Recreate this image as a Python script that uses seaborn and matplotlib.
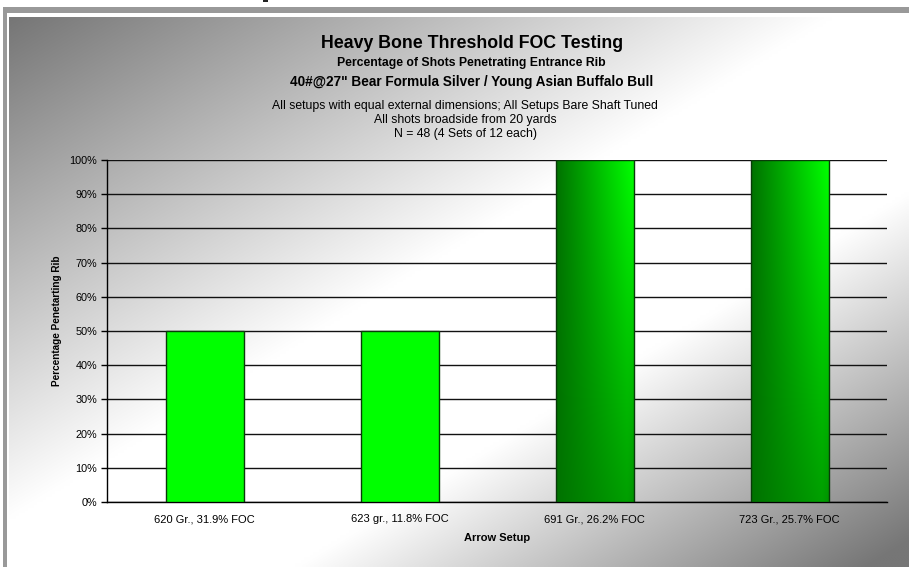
import numpy as np
import pandas as pd
import matplotlib
matplotlib.use('Agg')
import matplotlib.pyplot as plt
import matplotlib.patches as mpatches
import seaborn as sns

# data
setups = ['620 Gr., 31.9% FOC', '623 gr., 11.8% FOC', '691 Gr., 26.2% FOC', '723 Gr., 25.7% FOC']
pct_penetrating = [50, 50, 100, 100]
shaded_bar = [False, False, True, True]
bar_colors = ['#00ff00', '#00ff00', '#008000', '#008000']

title_lines = ['Heavy Bone Threshold FOC Testing',
               'Percentage of Shots Penetrating Entrance Rib',
               '40#@27" Bear Formula Silver / Young Asian Buffalo Bull']
note_lines = ['All setups with equal external dimensions; All Setups Bare Shaft Tuned',
              'All shots broadside from 20 yards',
              'N = 48 (4 Sets of 12 each)']

sns.set_theme(style='white')
plt.rcParams['font.family'] = ['Liberation Sans', 'DejaVu Sans']
plt.rcParams.update({'text.color': 'black', 'axes.labelcolor': 'black',
                     'xtick.color': 'black', 'ytick.color': 'black'})

W, H = 909, 567
fig = plt.figure(figsize=(W / 100, H / 100), dpi=100)
fig.patch.set_facecolor('white')

# background: diagonal grey-white-grey gradient with grey frame bars
bg = fig.add_axes([0, 0, 1, 1], zorder=0)
bg.set_xlim(0, W)
bg.set_ylim(H, 0)
bg.axis('off')
u, v = np.meshgrid(np.linspace(0, 1, 300), np.linspace(0, 1, 200))
t = (u + v) / 2
grey = np.where(t < 0.46, 118 + 300 * t, np.where(t > 0.66, 255 - 430 * (t - 0.66), 255))
grey = np.clip(grey, 118, 255) / 255
bg.imshow(np.dstack([grey, grey, grey]), extent=(9, W, H, 17), aspect='auto', interpolation='bilinear')
bg.add_patch(mpatches.Rectangle((3, 7), W - 3, 6, color='#999999', lw=0))
bg.add_patch(mpatches.Rectangle((3, 7), 4, H - 7, color='#999999', lw=0))
bg.add_patch(mpatches.Rectangle((263, 0), 5, 2, color='#222222', lw=0))

# titles
fig.text(0.519, 1 - 44 / H, title_lines[0], ha='center', va='center', fontsize=12.8, fontweight='bold')
fig.text(0.519, 1 - 63 / H, title_lines[1], ha='center', va='center', fontsize=8.8, fontweight='bold')
fig.text(0.519, 1 - 82 / H, title_lines[2], ha='center', va='center', fontsize=9.8, fontweight='bold')
for i, line in enumerate(note_lines):
    fig.text(0.512, 1 - (106 + 14 * i) / H, line, ha='center', va='center', fontsize=8.8)

ax = fig.add_axes([107 / W, 1 - 502 / H, (887 - 107) / W, (502 - 160) / H], zorder=1)
ax.set_facecolor('none')

df = pd.DataFrame({'setup': setups, 'pct': pct_penetrating})
sns.barplot(data=df, x='setup', y='pct', hue='setup', palette=bar_colors, width=0.4, saturation=1,
            edgecolor='#0a3a0a', linewidth=1, legend=False, ax=ax, zorder=3)

# shaded (gradient) fill for the 100% bars
for patch, shaded in zip(ax.patches, shaded_bar):
    if not shaded:
        continue
    x0, y0 = patch.get_x(), patch.get_y()
    w, h = patch.get_width(), patch.get_height()
    s, hh = np.meshgrid(np.linspace(0, 1, 60), np.linspace(1, 0, 100))
    g = 0x72 + (0xff - 0x72) * s * (0.35 + 0.65 * hh)
    g = np.where(s > 0.92, g - (s - 0.92) * 300 * (1 - hh) * 0.6, g)
    img = np.dstack([np.zeros_like(g), np.clip(g, 0, 255) / 255, np.zeros_like(g)])
    im = ax.imshow(img, extent=(x0, x0 + w, y0, y0 + h), aspect='auto', zorder=3.5,
                   interpolation='bilinear')
    im.set_clip_path(patch)
    patch.set_zorder(4)
    patch.set_facecolor('none')

ax.set_xlim(-0.5, 3.5)
ax.set_ylim(0, 100)
ax.set_yticks(np.arange(0, 101, 10))
ax.set_yticklabels([f'{p}%' for p in range(0, 101, 10)], fontsize=7.8)
ax.yaxis.grid(True, color='#111111', lw=1)
ax.set_axisbelow(True)
ax.set_xticks(range(4))
ax.set_xticklabels(setups, fontsize=8)
ax.set_xticks([-0.5, 0.5, 1.5, 2.5, 3.5], minor=True)
ax.tick_params(axis='x', which='major', length=0, pad=9)
ax.tick_params(axis='x', which='minor', length=4, width=1, color='black', direction='out')
ax.tick_params(axis='y', length=4, width=1, color='black', direction='out', left=True, pad=3)
for side in ['top', 'right']:
    ax.spines[side].set_visible(False)
for side in ['left', 'bottom']:
    ax.spines[side].set_color('black')
    ax.spines[side].set_linewidth(1)

ax.set_xlabel('Arrow Setup', fontsize=8, fontweight='bold', labelpad=6)
ax.set_ylabel('Percentage Penetarting Rib', fontsize=7.2, fontweight='bold')
ax.yaxis.set_label_coords(-45 / 780, (502 - 321) / 342)

fig.savefig('out.png', dpi=100)
